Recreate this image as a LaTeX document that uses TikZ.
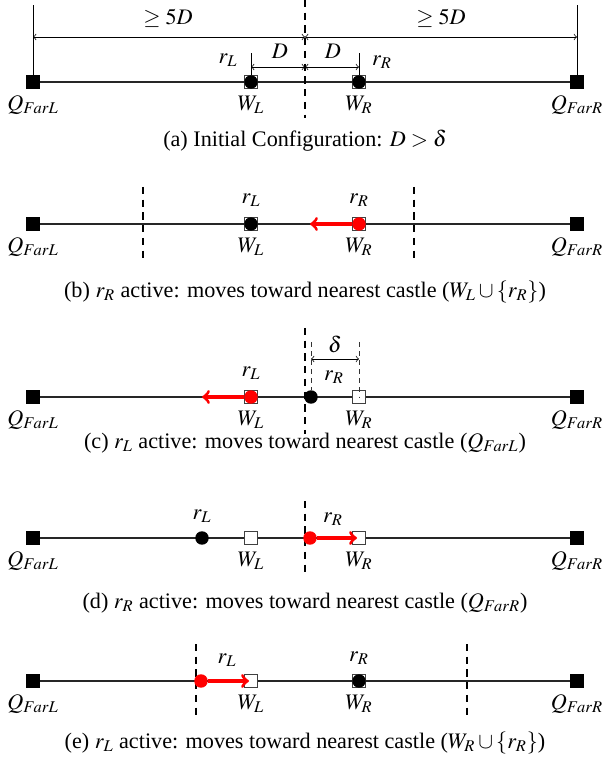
\documentclass[tikz,border=0pt]{standalone}
\usepackage{amsmath}
\usepackage{mathptmx}
\usepackage{fontspec}
\setmainfont{Liberation Serif}
\usepackage{tikz}

\begin{document}
\begin{tikzpicture}[x=0.55pt,y=-0.55pt,
  every node/.style={font=\fontsize{12.2pt}{14pt}\selectfont,inner sep=0pt},
  castle/.style={rectangle,fill=black,minimum size=7.6pt,inner sep=0pt},
  home/.style={rectangle,draw=black!75,fill=white,minimum size=7.6pt,inner sep=0pt,line width=0.5pt},
  robot/.style={circle,fill=black,minimum size=7.4pt,inner sep=0pt},
  active/.style={robot,fill=red},
  base/.style={line width=0.6pt,black!85},
  split/.style={line width=1.3pt,dash pattern=on 4pt off 3pt},
  ruler/.style={line width=0.4pt,black!80,dash pattern=on 2.5pt off 2.5pt},
  guide/.style={line width=0.4pt},
  dim/.style={<->,line width=0.4pt},
  move/.style={->,red,line width=1.7pt}]
\def\xQL{33}
\def\xQR{577}
\def\xWL{251}
\def\xWR{359}
\def\off{23}
\useasboundingbox (0,0) rectangle (602,758);
\foreach \p/\y in {a/82,b/224,c/397,d/538,e/681}{
  \node[castle] (qL\p) at (\xQL,\y) {};
  \node[castle] (qR\p) at (\xQR,\y) {};
  \draw[base] (qL\p) -- (qR\p);
  \node[home] (wL\p) at (\xWL,\y) {};
  \node[home] (wR\p) at (\xWR,\y) {};
  \node (tqL\p) at (\xQL,\y+\off) {$Q_{FarL}$};
  \node (tqR\p) at (\xQR,\y+\off) {$Q_{FarR}$};
  \node (twL\p) at (\xWL,\y+\off) {$W_L$};
  \node (twR\p) at (\xWR,\y+\off) {$W_R$};
}
% (a)
\node[robot] (rLa) at (wLa) {};
\node[robot] (rRa) at (wRa) {};
\draw[split] (305,0) -- (305,118);
\draw[guide] (qLa.north) -- (\xQL,5);
\draw[guide] (qRa.north) -- (\xQR,5);
\draw[guide] (rLa.north) -- (\xWL,53);
\draw[guide] (rRa.north) -- (\xWR,53);
\draw[dim] (\xQL,37) -- (305,37);
\draw[dim] (305,37) -- (\xQR,37);
\draw[dim] (\xWL,67) -- (305,67);
\draw[dim] (305,67) -- (\xWR,67);
\node (fiveL) at (168,18) {$\geq 5D$};
\node (fiveR) at (441,18) {$\geq 5D$};
\node (dL) at (280,51) {$D$};
\node (dR) at (333,51) {$D$};
\node (trLa) at (228,60) {$r_L$};
\node (trRa) at (382,62) {$r_R$};
\node (capa) at (305,141) {(a) Initial Configuration: $D > \delta$};
% (b)
\node[robot] (rLb) at (wLb) {};
\node[active] (rRb) at (wRb) {};
\coordinate (gRb) at (310,224);
\draw[move] (rRb) -- (gRb);
\draw[split] (143,187) -- (143,262);
\draw[split] (414,187) -- (414,262);
\node (trLb) at (\xWL,200) {$r_L$};
\node (trRb) at (\xWR,200) {$r_R$};
\node (capb) at (305,292) {(b) $r_R$ active: moves toward nearest castle ($W_L \cup \{r_R\}$)};
% (c)
\node[active] (rLc) at (wLc) {};
\coordinate (gLc) at (202,397);
\draw[move] (rLc) -- (gLc);
\draw[ruler] (311,342) -- (311,390);
\draw[ruler] (\xWR,342) -- (wRc.center);
\node[robot] (rRc) at (311,397) {};
\draw[split] (305,328) -- (305,434);
\draw[dim] (311,359) -- (\xWR,359);
\node (delta) at (335,344) {$\delta$};
\node (trLc) at (\xWL,373) {$r_L$};
\node (trRc) at (334,377) {$r_R$};
\node (capc) at (305,443) {(c) $r_L$ active: moves toward nearest castle ($Q_{FarL}$)};
% (d)
\node[robot] (rLd) at (202,538) {};
\draw[split] (305,501) -- (305,576);
\node[active] (rRd) at (310,538) {};
\coordinate (gRd) at (357,538);
\draw[move] (rRd) -- (gRd);
\node (trLd) at (202,516) {$r_L$};
\node (trRd) at (333,519) {$r_R$};
\node (capd) at (305,603) {(d) $r_R$ active: moves toward nearest castle ($Q_{FarR}$)};
% (e)
\draw[split] (196,644) -- (196,718);
\draw[split] (467,644) -- (467,718);
\node[active] (rLe) at (201,681) {};
\coordinate (gLe) at (249,681);
\draw[move] (rLe) -- (gLe);
\node[robot] (rRe) at (wRe) {};
\node (trLe) at (227,660) {$r_L$};
\node (trRe) at (\xWR,658) {$r_R$};
\node (cape) at (305,743) {(e) $r_L$ active: moves toward nearest castle ($W_R \cup \{r_R\}$)};
\end{tikzpicture}
\end{document}
